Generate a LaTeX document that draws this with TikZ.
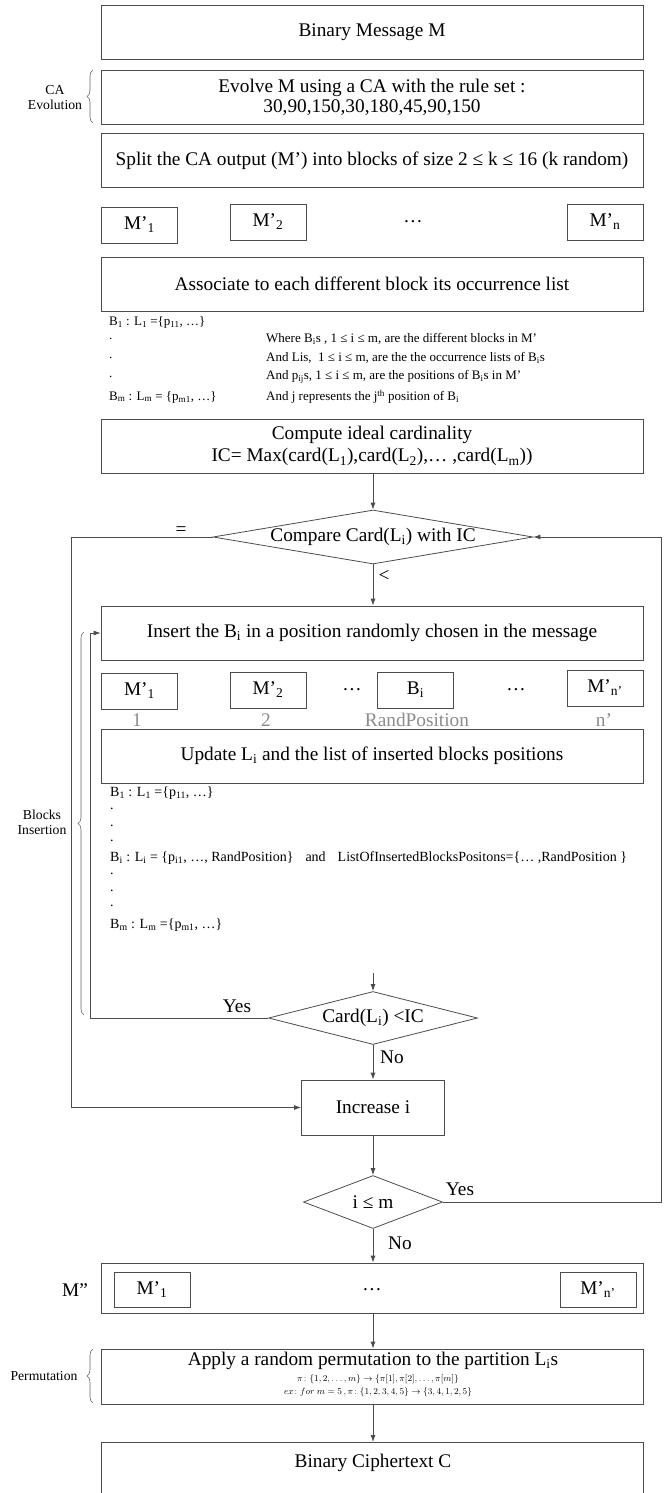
\documentclass[tikz,border=0pt]{standalone}
\usepackage{fontspec}
\usepackage{amsmath}
\setmainfont{Liberation Serif}
\usetikzlibrary{arrows.meta,positioning,calc,shapes.geometric,decorations.pathreplacing}
\newcommand{\mainsz}{\fontsize{19.3}{20.5}\selectfont}
\newcommand{\listsz}{\fontsize{13}{15}\selectfont}
\newcommand{\updsz}{\fontsize{14}{16}\selectfont}
\newcommand{\sidesz}{\fontsize{13.7}{15}\selectfont}
\newcommand{\eqsz}{\fontsize{9.2}{10}\selectfont}
\tikzset{
  line/.style={draw=black!70, line width=0.8pt},
  arr/.style={line, -{Latex[length=7pt,width=5pt]}},
  box/.style={draw=black!70, line width=0.8pt, minimum width=542pt, minimum height=54pt, inner sep=2pt, font=\mainsz, align=center},
  blk/.style={draw=black!70, line width=0.8pt, minimum width=76pt, minimum height=36pt, inner sep=0pt, font=\mainsz},
  dec/.style={draw=black!70, line width=0.8pt, shape=diamond, inner sep=0pt, font=\mainsz},
  lst/.style={anchor=west, inner sep=0pt, font=\listsz},
  upl/.style={anchor=west, inner sep=0pt, font=\updsz},
  side/.style={align=center, inner sep=0pt, font=\sidesz},
  txt/.style={inner sep=0pt, font=\mainsz},
  eqn/.style={inner sep=0pt, font=\eqsz},
  posn/.style={inner sep=0pt, font=\mainsz, text=black!45},
  brc/.style={draw=black!60, line width=0.6pt, decorate, decoration={brace, amplitude=6pt}}
}
\begin{document}
\begin{tikzpicture}[x=1pt,y=-1pt]
  \clip (0,0) rectangle (665,1493);

  % Message and CA evolution
  \node[box] (msg) at (372,32.5) {Binary Message M};
  \node[box] (evolve) at (372,97.5) {Evolve M using a CA with the rule set :\\30,90,150,30,180,45,90,150};
  \node[box] (split) at (372,160.5) {Split the CA output (M’) into blocks of size 2 ≤ k ≤ 16 (k random)};
  \draw[brc] (93,123) -- (93,70);
  \node[side] (caevo) at (55,98) {CA\\Evolution};

  % Blocks of M'
  \node[blk] (m1) at (139.5,225) {M’\textsubscript{1}};
  \node[blk] (m2) at (268,222) {M’\textsubscript{2}};
  \node[txt] (mdots) at (413,222) {…};
  \node[blk] (mn) at (605,222) {M’\textsubscript{n}};

  \node[box] (assoc) at (372,284) {Associate to each different block its occurrence list};

  % Occurrence lists
  \node[lst] (lb1) at (109,322) {B\textsubscript{1} : L\textsubscript{1} =\{p\textsubscript{11}, …\}};
  \foreach \y in {339,358,377}
    \node[lst] (ldot\y) at (109,\y) {.};
  \node[lst] (lbm) at (109,397) {B\textsubscript{m} : L\textsubscript{m} = \{p\textsubscript{m1}, …\}};
  \node[lst] (where) at (266,339) {Where B\textsubscript{i}s , 1 ≤ i ≤ m, are the different blocks in M’};
  \node[lst] (andl) at (266,358) {And Lis,\ \ 1 ≤ i ≤ m, are the the occurrence lists of B\textsubscript{i}s};
  \node[lst] (andp) at (266,377) {And p\textsubscript{ij}s, 1 ≤ i ≤ m, are the positions of B\textsubscript{i}s in M’};
  \node[lst] (andj) at (266,397) {And j represents the j\textsuperscript{th} position of B\textsubscript{i}};

  \node[box] (ideal) at (372,446) {Compute ideal cardinality\\[2pt]IC= Max(card(L\textsubscript{1}),card(L\textsubscript{2}),… ,card(L\textsubscript{m}))};

  % Comparison loop
  \node[dec, minimum width=320pt, minimum height=54pt, aspect=5.9] (compare) at (373,537) {Compare Card(L\textsubscript{i}) with IC};
  \node[box] (insert) at (372,633) {Insert the B\textsubscript{i} in a position randomly chosen in the message};

  % Message after insertion
  \node[blk] (n1) at (139.5,691) {M’\textsubscript{1}};
  \node[blk] (n2) at (268,690) {M’\textsubscript{2}};
  \node[txt] (ndots1) at (352,690) {…};
  \node[blk] (nb) at (415.5,690) {B\textsubscript{i}};
  \node[txt] (ndots2) at (516,690) {…};
  \node[blk] (nn) at (605,688) {M’\textsubscript{n’}};
  \node[posn] (p1) at (137,720) {1};
  \node[posn] (p2) at (266,720) {2};
  \node[posn] (prand) at (417,720) {RandPosition};
  \node[posn] (pn) at (604,720) {n’};

  \node[box] (update) at (372,756) {Update L\textsubscript{i} and the list of inserted blocks positions};

  % Updated lists
  \node[upl] (ub1) at (110,793) {B\textsubscript{1} : L\textsubscript{1} =\{p\textsubscript{11}, …\}};
  \foreach \y in {809,826,841,874,891,906}
    \node[upl] (udot\y) at (110,\y) {.};
  \node[upl] (ubi) at (110,858) {B\textsubscript{i} : L\textsubscript{i} = \{p\textsubscript{i1}, …, RandPosition\}\hspace{12pt}and\hspace{12pt}ListOfInsertedBlocksPositons=\{… ,RandPosition \}};
  \node[upl] (ubm) at (110,925) {B\textsubscript{m} : L\textsubscript{m} =\{p\textsubscript{m1}, …\}};

  \coordinate (upd) at (373,973);
  \node[dec, minimum width=209pt, minimum height=53pt, aspect=3.9] (less) at (373,1018) {Card(L\textsubscript{i}) <IC};
  \node[box, minimum width=143pt, minimum height=55pt] (incr) at (373,1107.5) {Increase i};
  \node[dec, minimum width=139pt, minimum height=53pt, aspect=2.6] (last) at (373,1202) {i ≤ m};

  \draw[brc] (84,1015) -- (84,632);
  \node[side] (blins) at (42,822) {Blocks\\Insertion};

  % Loop connectors
  \coordinate (lout) at (71,537);
  \coordinate (lin) at (90,633);
  \coordinate (rout) at (661,537);
  \draw[arr] (ideal.south -| compare.north) -- (compare.north);
  \draw[arr] (compare.south) -- (insert.north -| compare.south);
  \node[txt] (lt) at (384,576) {<};
  \draw[arr] (compare.west) -- (lout) |- (incr.west);
  \node[txt] (eq) at (181,531) {=};
  \draw[arr] (upd) -- (less.north);
  \draw[arr] (less.west) -| (lin) -- (insert.west);
  \node[txt] (yes1) at (237,1006) {Yes};
  \draw[arr] (less.south) -- (incr.north);
  \node[txt] (no1) at (392,1057) {No};
  \draw[arr] (incr.south) -- (last.north);
  \draw[arr] (last.east) -| (rout) -- (compare.east);
  \node[txt] (yes2) at (460,1189) {Yes};

  % Final message
  \node[box, minimum height=50pt] (mpp) at (372,1288) {};
  \node[txt] (pdots) at (372,1290) {…};
  \node[blk, minimum height=35pt] (q1) at (152,1289.5) {M’\textsubscript{1}};
  \node[blk, minimum height=35pt] (qn) at (598,1289.5) {M’\textsubscript{n’}};
  \node[txt] (mpplab) at (75,1290) {M”};
  \draw[arr] (last.south) -- (mpp.north -| last.south);
  \node[txt] (no2) at (400,1243) {No};

  % Permutation
  \node[box, minimum height=55pt] (perm) at (372,1376.5) {};
  \node[txt] (permtxt) at (373,1361) {Apply a random permutation to the partition L\textsubscript{i}s};
  \node[eqn] (permeq1) at (378,1379) {$\pi\colon\{1,2,\ldots,m\}\rightarrow\{\pi[1],\pi[2],\ldots,\pi[m]\}$};
  \node[eqn] (permeq2) at (378,1392) {$ex\colon for\ m=5\,,\pi\colon\{1,2,3,4,5\}\rightarrow\{3,4,1,2,5\}$};
  \draw[brc] (93,1403) -- (93,1349);
  \node[side] (permlab) at (44,1376) {Permutation};
  \draw[arr] (mpp.south -| last.south) -- (perm.north -| last.south);

  % Ciphertext
  \node[box, anchor=north, minimum height=80pt] (cipher) at (372,1442) {};
  \node[txt] (ciphertxt) at (373,1463) {Binary Ciphertext C};
  \draw[arr] (perm.south -| last.south) -- (cipher.north -| last.south);
\end{tikzpicture}
\end{document}
